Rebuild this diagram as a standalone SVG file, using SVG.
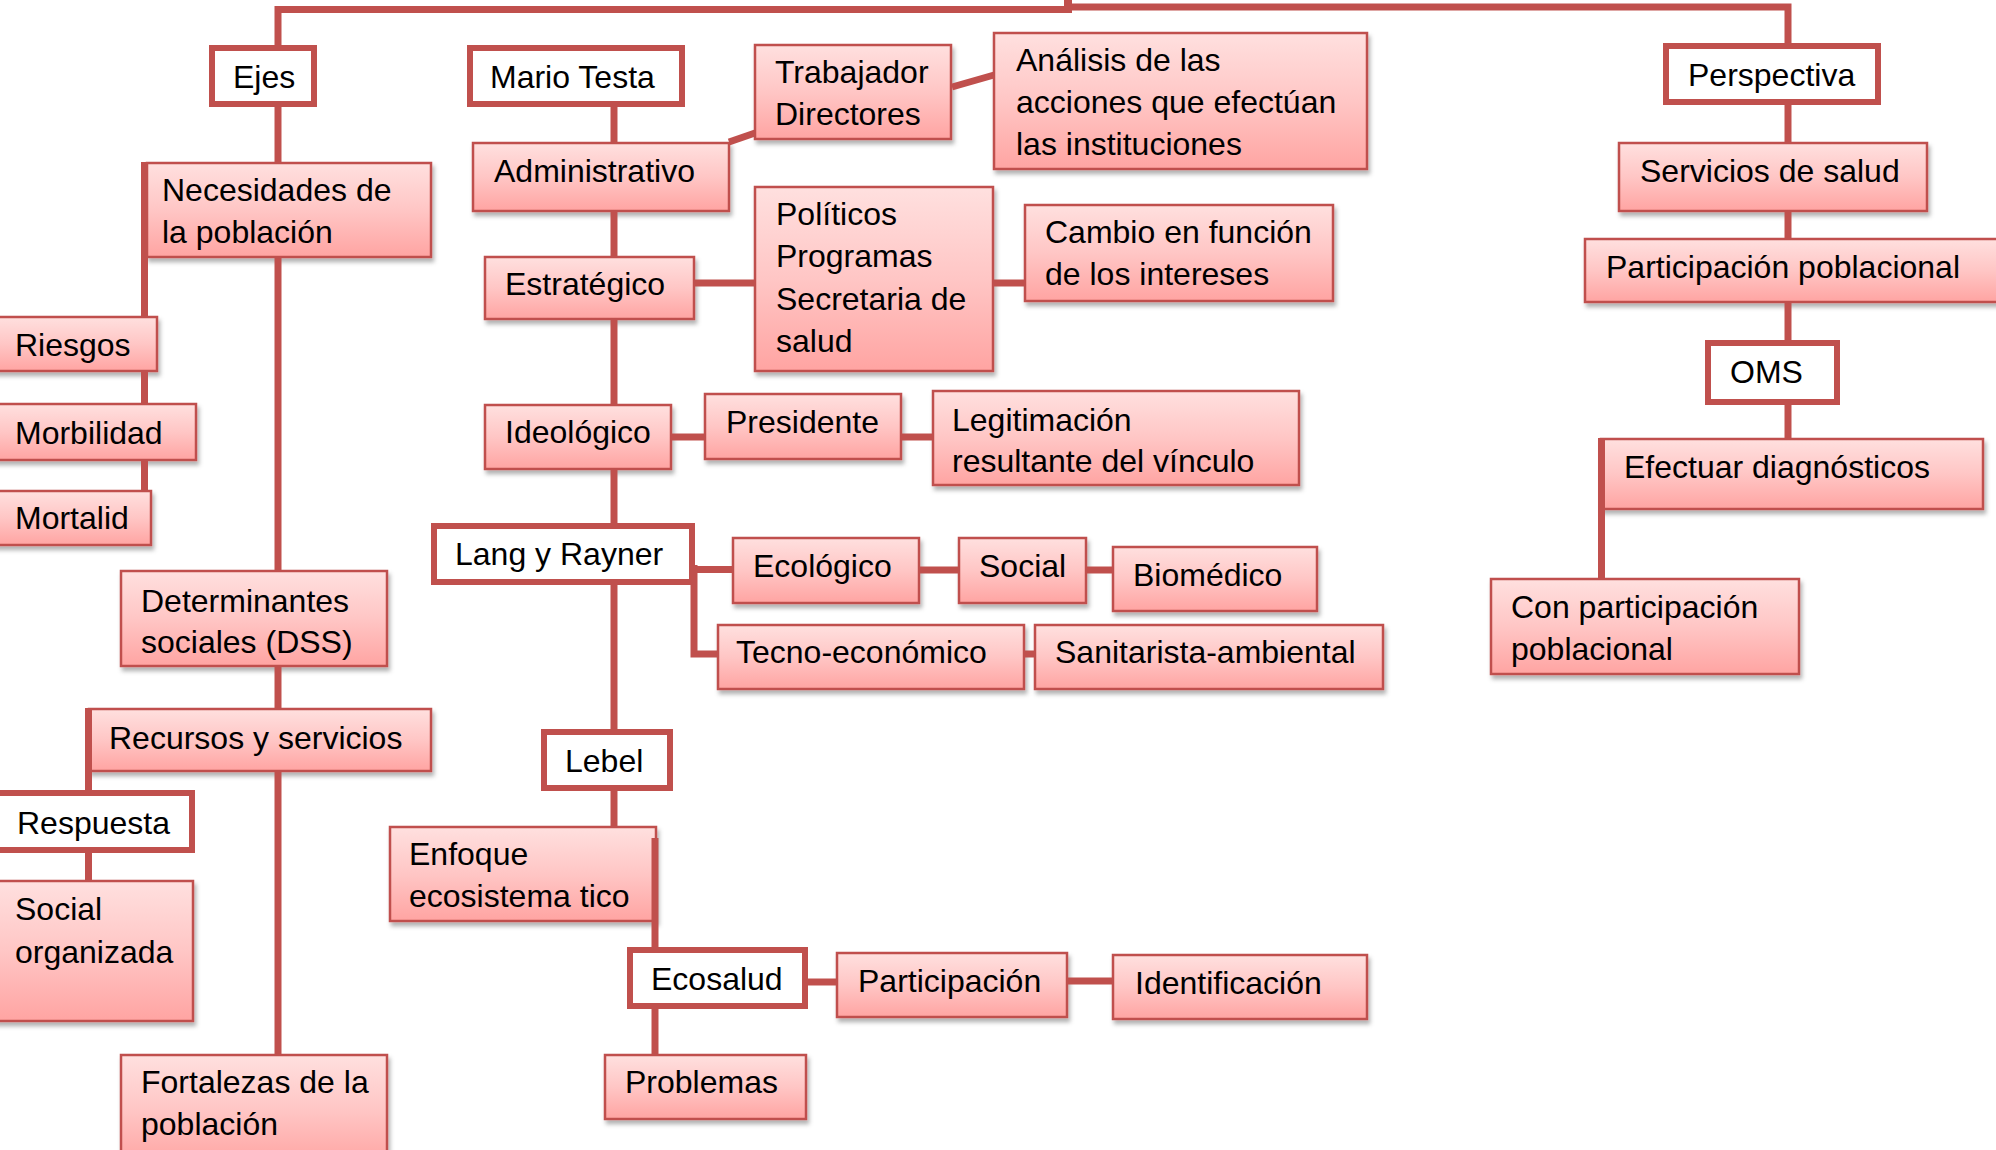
<svg xmlns="http://www.w3.org/2000/svg" width="1996" height="1150" viewBox="0 0 1996 1150">
<defs>
<linearGradient id="pk" x1="0" y1="0" x2="0" y2="1">
<stop offset="0" stop-color="#ffe0df"/>
<stop offset="0.5" stop-color="#ffc6c5"/>
<stop offset="1" stop-color="#ffa4a2"/>
</linearGradient>
<filter id="sh" x="-10%" y="-10%" width="130%" height="140%">
<feDropShadow dx="2" dy="4" stdDeviation="2" flood-color="#000" flood-opacity="0.3"/>
</filter>
<style>
.p{fill:url(#pk);stroke:#c0504d;stroke-width:2.5;filter:url(#sh)}
.w{fill:#fff;stroke:#c0504d;stroke-width:6}
.t{font-family:"Liberation Sans",Arial,sans-serif;font-size:32px;fill:#000}
.c{fill:none;stroke:#c0504d;stroke-width:7}
</style>
</defs>
<rect width="1996" height="1150" fill="#fff"/>

<g id="nodes">
<g id="ejes"><rect class="w" x="212" y="48" width="102" height="56"/><text class="t" x="233" y="88">Ejes</text></g>
<g id="mario"><rect class="w" x="470" y="48" width="212" height="56"/><text class="t" x="490" y="88">Mario Testa</text></g>
<g id="perspectiva"><rect class="w" x="1666" y="46" width="212" height="56"/><text class="t" x="1688" y="86">Perspectiva</text></g>

<g id="nec"><rect class="p" x="147" y="163" width="284" height="94"/><text class="t" x="162" y="201">Necesidades de</text><text class="t" x="162" y="243">la población</text></g>
<g id="riesgos"><rect class="p" x="-5" y="317" width="162" height="54"/><text class="t" x="15" y="356">Riesgos</text></g>
<g id="morb"><rect class="p" x="-5" y="404" width="201" height="56"/><text class="t" x="15" y="444">Morbilidad</text></g>
<g id="mort"><rect class="p" x="-5" y="491" width="156" height="54"/><text class="t" x="15" y="529">Mortalid</text></g>
<g id="det"><rect class="p" x="121" y="571" width="266" height="95"/><text class="t" x="141" y="612">Determinantes</text><text class="t" x="141" y="653">sociales (DSS)</text></g>
<g id="recursos"><rect class="p" x="89" y="709" width="342" height="62"/><text class="t" x="109" y="749">Recursos y servicios</text></g>
<g id="respuesta"><rect class="w" x="-5" y="793" width="197" height="57"/><text class="t" x="17" y="834">Respuesta</text></g>
<g id="socorg"><rect class="p" x="-5" y="881" width="198" height="140"/><text class="t" x="15" y="920">Social</text><text class="t" x="15" y="963">organizada</text></g>
<g id="fort"><rect class="p" x="121" y="1055" width="266" height="110"/><text class="t" x="141" y="1093">Fortalezas de la</text><text class="t" x="141" y="1135">población</text></g>

<g id="admin"><rect class="p" x="473" y="143" width="256" height="68"/><text class="t" x="494" y="182">Administrativo</text></g>
<g id="trab"><rect class="p" x="755" y="45" width="196" height="94"/><text class="t" x="775" y="83">Trabajador</text><text class="t" x="775" y="125">Directores</text></g>
<g id="anal"><rect class="p" x="994" y="33" width="373" height="136"/><text class="t" x="1016" y="71">Análisis de las</text><text class="t" x="1016" y="113">acciones que efectúan</text><text class="t" x="1016" y="155">las instituciones</text></g>
<g id="estr"><rect class="p" x="485" y="257" width="209" height="62"/><text class="t" x="505" y="295">Estratégico</text></g>
<g id="polit"><rect class="p" x="755" y="187" width="238" height="184"/><text class="t" x="776" y="225">Políticos</text><text class="t" x="776" y="267">Programas</text><text class="t" x="776" y="310">Secretaria de</text><text class="t" x="776" y="352">salud</text></g>
<g id="cambio"><rect class="p" x="1025" y="205" width="308" height="96"/><text class="t" x="1045" y="243">Cambio en función</text><text class="t" x="1045" y="285">de los intereses</text></g>
<g id="ideol"><rect class="p" x="485" y="405" width="186" height="64"/><text class="t" x="505" y="443">Ideológico</text></g>
<g id="pres"><rect class="p" x="705" y="394" width="196" height="65"/><text class="t" x="726" y="433">Presidente</text></g>
<g id="legit"><rect class="p" x="933" y="391" width="366" height="94"/><text class="t" x="952" y="431">Legitimación</text><text class="t" x="952" y="472">resultante del vínculo</text></g>
<g id="lang"><rect class="w" x="434" y="526" width="258" height="56"/><text class="t" x="455" y="565">Lang y Rayner</text></g>
<g id="ecol"><rect class="p" x="733" y="538" width="186" height="65"/><text class="t" x="753" y="577">Ecológico</text></g>
<g id="social"><rect class="p" x="959" y="538" width="127" height="65"/><text class="t" x="979" y="577">Social</text></g>
<g id="biomed"><rect class="p" x="1113" y="547" width="204" height="64"/><text class="t" x="1133" y="586">Biomédico</text></g>
<g id="tecno"><rect class="p" x="718" y="625" width="306" height="64"/><text class="t" x="736" y="663">Tecno-económico</text></g>
<g id="sanit"><rect class="p" x="1035" y="625" width="348" height="64"/><text class="t" x="1055" y="663">Sanitarista-ambiental</text></g>
<g id="lebel"><rect class="w" x="544" y="732" width="126" height="56"/><text class="t" x="565" y="772">Lebel</text></g>
<g id="enfoque"><rect class="p" x="390" y="827" width="266" height="94"/><text class="t" x="409" y="865">Enfoque</text><text class="t" x="409" y="907">ecosistema tico</text></g>
<g id="ecosalud"><rect class="w" x="630" y="950" width="175" height="56"/><text class="t" x="651" y="990">Ecosalud</text></g>
<g id="partic"><rect class="p" x="837" y="953" width="230" height="64"/><text class="t" x="858" y="992">Participación</text></g>
<g id="ident"><rect class="p" x="1113" y="955" width="254" height="64"/><text class="t" x="1135" y="994">Identificación</text></g>
<g id="probl"><rect class="p" x="605" y="1055" width="201" height="64"/><text class="t" x="625" y="1093">Problemas</text></g>

<g id="serv"><rect class="p" x="1619" y="143" width="308" height="68"/><text class="t" x="1640" y="182">Servicios de salud</text></g>
<g id="partpob"><rect class="p" x="1585" y="239" width="420" height="63"/><text class="t" x="1606" y="278">Participación poblacional</text></g>
<g id="oms"><rect class="w" x="1708" y="343" width="129" height="59"/><text class="t" x="1730" y="383">OMS</text></g>
<g id="efect"><rect class="p" x="1601" y="439" width="382" height="70"/><text class="t" x="1624" y="478">Efectuar diagnósticos</text></g>
<g id="conpart"><rect class="p" x="1491" y="579" width="308" height="95"/><text class="t" x="1511" y="618">Con participación</text><text class="t" x="1511" y="660">poblacional</text></g>
</g>

<g id="connectors">
<polyline class="c" points="278,45 278,9.5 1068,9.5"/>
<polyline class="c" points="1068,7 1788,7 1788,43"/>
<rect x="1064" y="0" width="8" height="13" fill="#c0504d"/>
<line class="c" x1="278" y1="107" x2="278" y2="162"/>
<line class="c" x1="278" y1="258" x2="278" y2="570"/>
<line class="c" x1="278" y1="667" x2="278" y2="708"/>
<line class="c" x1="278" y1="772" x2="278" y2="1054"/>
<line class="c" x1="144.5" y1="162" x2="144.5" y2="316"/>
<line class="c" x1="144.5" y1="372" x2="144.5" y2="403"/>
<line class="c" x1="144.5" y1="461" x2="144.5" y2="490"/>
<line class="c" x1="88.5" y1="708" x2="88.5" y2="790"/>
<line class="c" x1="88.5" y1="853" x2="88.5" y2="880"/>

<line class="c" x1="614" y1="107" x2="614" y2="142"/>
<line class="c" x1="614" y1="212" x2="614" y2="256"/>
<line class="c" x1="614" y1="320" x2="614" y2="404"/>
<line class="c" x1="614" y1="470" x2="614" y2="523"/>
<line class="c" x1="614" y1="585" x2="614" y2="729"/>
<line class="c" x1="614" y1="791" x2="614" y2="826"/>
<line class="c" x1="729" y1="142" x2="755" y2="133"/>
<line class="c" x1="952" y1="87" x2="994" y2="75"/>
<line class="c" x1="695" y1="283" x2="755" y2="283"/>
<line class="c" x1="994" y1="283" x2="1024" y2="283"/>
<line class="c" x1="672" y1="437" x2="704" y2="437"/>
<line class="c" x1="902" y1="437" x2="932" y2="437"/>
<polyline class="c" points="733,569.5 694,569.5"/>
<polyline class="c" points="694,565 694,654 717,654"/>
<line class="c" x1="920" y1="570" x2="958" y2="570"/>
<line class="c" x1="1087" y1="570" x2="1112" y2="570"/>
<line class="c" x1="1025" y1="654" x2="1035" y2="654"/>
<line class="c" x1="655" y1="838" x2="655" y2="947"/>
<line class="c" x1="655" y1="1009" x2="655" y2="1054"/>
<line class="c" x1="808" y1="982" x2="836" y2="982"/>
<line class="c" x1="1068" y1="981" x2="1112" y2="981"/>

<line class="c" x1="1788" y1="105" x2="1788" y2="142"/>
<line class="c" x1="1788" y1="212" x2="1788" y2="238"/>
<line class="c" x1="1788" y1="303" x2="1788" y2="340"/>
<line class="c" x1="1788" y1="405" x2="1788" y2="438"/>
<line class="c" x1="1601.5" y1="438" x2="1601.5" y2="578"/>
</g>
</svg>
